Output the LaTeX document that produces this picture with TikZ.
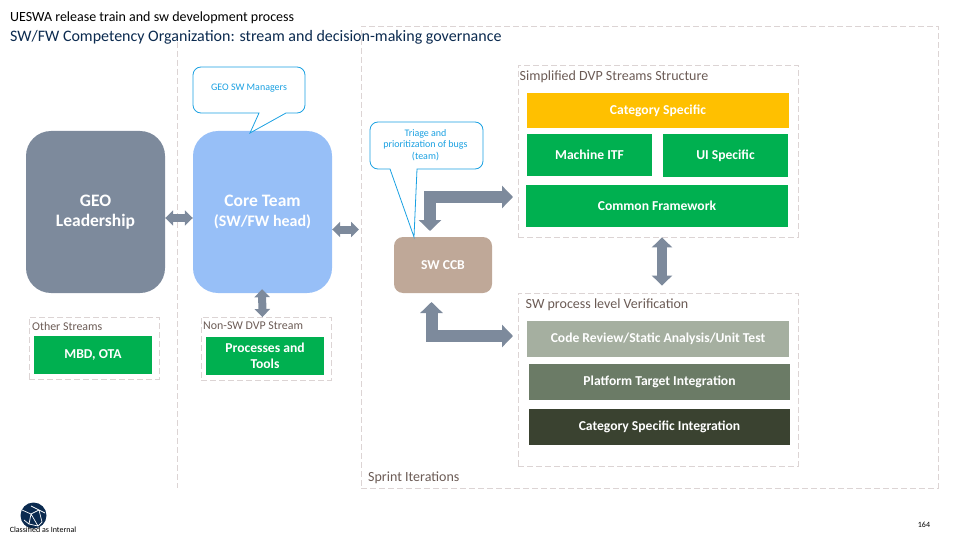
\documentclass[tikz,border=0pt]{standalone}
\usepackage{fontspec}
\setmainfont{Carlito}
\usepackage{tikz}
\usetikzlibrary{arrows.meta}
\definecolor{geogrey}{HTML}{7D8A9C}
\definecolor{coreblue}{HTML}{97BFF7}
\definecolor{ccbbrown}{HTML}{BFA898}
\definecolor{dvpgreen}{HTML}{00B050}
\definecolor{catyellow}{HTML}{FFC000}
\definecolor{sagelight}{HTML}{A5AFA0}
\definecolor{sagemid}{HTML}{6B7B66}
\definecolor{sagedark}{HTML}{3A4230}
\definecolor{dashgrey}{HTML}{DCD4D4}
\definecolor{titlebrown}{HTML}{6B5B55}
\definecolor{titlenavy}{HTML}{0B2A4F}
\definecolor{calloutcyan}{HTML}{1BA1E2}
\definecolor{arrowgrey}{HTML}{7D8A9C}
\tikzset{
    groupbox/.style={
        draw=dashgrey,
        dash pattern=on 6pt off 3pt,
        line width=0.9pt,
        inner sep=0pt
    },
    block/.style={
        inner sep=0pt,
        align=center,
        text=white,
        font=\fontsize{13.6}{16}\selectfont\bfseries
    },
    bigblock/.style={
        block,
        rounded corners=25pt,
        minimum width=139pt,
        minimum height=162pt
    },
    grouptitle/.style={
        anchor=west,
        inner sep=0pt,
        text=titlebrown,
        font=\fontsize{14}{16}\selectfont
    },
    calloutshape/.style={
        draw=calloutcyan,
        fill=white,
        line width=0.8pt,
        rounded corners=8pt
    },
    callouttext/.style={
        inner sep=0pt,
        align=center,
        text=calloutcyan,
        font=\fontsize{10}{11.5}\selectfont
    },
    blockarrow/.style={
        draw=arrowgrey,
        line width=#1
    }
}
\begin{document}
\begin{tikzpicture}[x=1pt,y=-1pt]
    \useasboundingbox (0,0) rectangle (960,540);

    % Dashed frames
    \coordinate (splittop) at (177.5,33);
    \coordinate (splitbottom) at (177.5,488);
    \draw[groupbox] (splittop) -- (splitbottom);
    \node[groupbox, minimum width=577pt, minimum height=462pt] (sprint) at (649.5,257) {};
    \node[grouptitle] (sprinttitle) at (368,477.5) {Sprint Iterations};

    % Titles
    \node[anchor=west, inner sep=0pt, font=\fontsize{14}{16}\selectfont] (maintitle) at (10,17.5) {UESWA release train and sw development process};
    \node[anchor=west, inner sep=0pt, text=titlenavy, font=\fontsize{16}{18}\selectfont] (subtitle) at (10,37) {SW/FW Competency Organization: stream and decision-making governance};

    % Leadership and core team
    \node[bigblock, fill=geogrey, font=\fontsize{17.5}{20}\selectfont\bfseries] (geo) at (95.5,212) {GEO\\Leadership};
    \node[bigblock, fill=coreblue, font=\fontsize{17.5}{20}\selectfont\bfseries] (core) at (262.5,212) {Core Team\\{\fontsize{16}{20}\selectfont (SW/FW head)}};

    % Other streams
    \node[groupbox, minimum width=130pt, minimum height=62pt] (other) at (94,348) {};
    \node[grouptitle, font=\fontsize{11.9}{14}\selectfont] (othertitle) at (32,326) {Other Streams};
    \node[block, fill=dvpgreen, minimum width=118pt, minimum height=38pt] (mbd) at (93,355) {MBD, OTA};
    \node[groupbox, minimum width=130pt, minimum height=63pt] (nonsw) at (266,348.5) {};
    \node[grouptitle, font=\fontsize{11.9}{14}\selectfont] (nonswtitle) at (203,326) {Non-SW DVP Stream};
    \node[block, fill=dvpgreen, minimum width=118pt, minimum height=38pt] (proc) at (265,356) {Processes and\\Tools};

    % DVP streams
    \node[groupbox, minimum width=280pt, minimum height=172pt] (dvp) at (658,151) {};
    \node[grouptitle] (dvptitle) at (519.5,76.5) {Simplified DVP Streams Structure};
    \node[block, fill=catyellow, minimum width=262pt, minimum height=35pt] (cat) at (658,110.5) {Category Specific};
    \node[block, fill=dvpgreen, minimum width=125pt, minimum height=42pt] (mach) at (589.5,155) {Machine ITF};
    \node[block, fill=dvpgreen, minimum width=125pt, minimum height=43pt] (ui) at (725.5,155.5) {UI Specific};
    \node[block, fill=dvpgreen, minimum width=262pt, minimum height=42pt] (common) at (657,206) {Common Framework};

    % Verification
    \node[groupbox, minimum width=280pt, minimum height=173pt] (verif) at (658,379.5) {};
    \node[grouptitle] (veriftitle) at (525.5,305) {SW process level Verification};
    \node[block, fill=sagelight, minimum width=262pt, minimum height=36pt] (code) at (658,339) {Code Review/Static Analysis/Unit Test};
    \node[block, fill=sagemid, minimum width=261pt, minimum height=36pt] (plat) at (659.5,382) {Platform Target Integration};
    \node[block, fill=sagedark, minimum width=261pt, minimum height=36pt] (catint) at (659.5,427) {Category Specific Integration};

    % CCB
    \node[block, fill=ccbbrown, rounded corners=9pt, minimum width=98pt, minimum height=56pt] (ccb) at (443,265) {SW CCB};

    % Callouts
    \draw[calloutshape] (250,133) [sharp corners] -- (259,113) [rounded corners=8pt] -- (193,113) -- (193,67) -- (305,67) -- (305,113) [sharp corners] -- (286,113) -- cycle;
    \node[callouttext] (managers) at (249,88.5) {GEO SW Managers};
    \draw[calloutshape] (414,237) [sharp corners] -- (390,169) [rounded corners=8pt] -- (370,169) -- (370,122) -- (483,122) -- (483,169) [sharp corners] -- (417,169) -- cycle;
    \node[callouttext] (triage) at (425.5,145) {Triage and\\prioritization of bugs\\(team)};

    % Arrows
    \coordinate (ccbtop) at (430,231);
    \coordinate (dvpin) at (513,197);
    \coordinate (ccbbottom) at (431.5,302);
    \coordinate (verifin) at (513,336);
    \coordinate (sprintin) at (359,229.5);
    \draw[blockarrow=8pt, {Triangle[length=8pt,width=15pt]}-{Triangle[length=8pt,width=15pt]}] ([yshift=-6pt]geo.east) -- ([yshift=-6pt]core.west);
    \draw[blockarrow=8pt, {Triangle[length=8pt,width=15pt]}-{Triangle[length=8pt,width=15pt]}] ([yshift=-17.5pt]core.east) -- (sprintin);
    \draw[blockarrow=8pt, {Triangle[length=8pt,width=15pt]}-{Triangle[length=8pt,width=15pt]}] ([xshift=-0.5pt,yshift=4pt]core.south) -- ([xshift=-3.5pt,yshift=-0.5pt]nonsw.north);
    \draw[blockarrow=10pt, {Triangle[length=10pt,width=20pt]}-{Triangle[length=10pt,width=20pt]}] ([xshift=4pt]dvp.south) -- ([xshift=4pt,yshift=7pt]verif.north);
    \draw[blockarrow=12pt, {Triangle[length=11pt,width=22pt]}-{Triangle[length=11pt,width=22pt]}] (ccbtop) |- (dvpin);
    \draw[blockarrow=12pt, {Triangle[length=11pt,width=22pt]}-{Triangle[length=11pt,width=22pt]}] (ccbbottom) |- (verifin);

    % Footer
    \node[circle, fill=titlenavy, minimum size=26pt, inner sep=0pt] (globe) at (33.5,515.5) {};
    \draw[white, line width=0.7pt] (22,510) -- (31,514) -- (39,510) -- (45,513) (31,506) -- (39,510) (31,514) -- (29,524) -- (38,526) (39,510) -- (42,522) -- (38,526) (24,520) -- (29,524) (31,514) -- (38,526);
    \node[inner sep=0pt, font=\fontsize{8}{9}\selectfont] (classified) at (43,530) {Classified as Internal};
    \node[inner sep=0pt, font=\fontsize{8}{9}\selectfont] (pagenum) at (924,525) {164};
\end{tikzpicture}
\end{document}
